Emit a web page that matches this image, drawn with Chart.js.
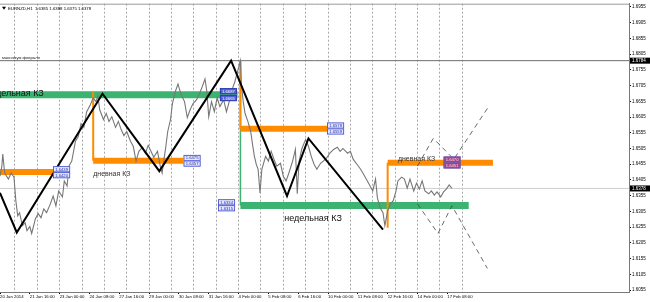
<!DOCTYPE html>
<html><head><meta charset="utf-8">
<script src="https://cdn.jsdelivr.net/npm/chart.js@4.4.1/dist/chart.umd.min.js"></script>
<style>html,body{margin:0;padding:0;background:#fff;overflow:hidden}#wrap{width:650px;height:302px;position:relative}</style>
</head><body><div id="wrap"><canvas id="c" width="650" height="302"></canvas></div>
<script>
// ---- data (x = H1 bar index, y = EURNZD price) ----
const xTickBars = [0,32,64,96,128,160,192,224,256,288,320,352,384,416,448,480];
const xTickLabels = ["20 Jan 2014","21 Jan 16:00","23 Jan 00:00","24 Jan 08:00","27 Jan 16:00","29 Jan 00:00","30 Jan 08:00","31 Jan 16:00","4 Feb 00:00","5 Feb 08:00","6 Feb 16:00","10 Feb 00:00","11 Feb 08:00","12 Feb 16:00","14 Feb 00:00","17 Feb 08:00"];
const dayGridBars = [16,40,64,88,112,136,160,184,208,232,256,280,304,328,352,376,400,424,448,472,496];
const yTickValues = [1.6055,1.6105,1.6155,1.6205,1.6255,1.6305,1.6355,1.6405,1.6455,1.6505,1.6555,1.6605,1.6655,1.6705,1.6755,1.6805,1.6855,1.6905,1.6955];

const priceBars = [0,2,3,5,9,12,15,17,19,21,
24,27,29,32,34,38,41,44,47,50,
54,57,60,63,67,69,72,74,77,81,
84,87,90,93,97,100,103,105,107,111,
114,117,120,124,127,130,133,136,140,143,
146,149,153,156,159,162,165,169,172,174,
176,178,180,183,185,188,191,194,198,201,
204,207,211,214,217,220,222,224,227,230,
233,236,240,243,246,249,252,256,258,259,
261,263,266,269,271,273,275,277,279,281,
285,288,291,294,297,301,304,307,310,314,
317,319,321,324,328,331,334,337,340,344,
347,351,354,358,362,365,368,373,376,379,
383,387,390,393,396,400,403,405,408,411,
413,416,419,422,425,427,431,434,437,440,
444,447,450,453,456,460,463,466,469,473,
476,479,482,485];
const priceValues = [1.6417,1.6449,1.6487,1.6427,1.6408,1.6427,1.6414,1.6339,1.6291,1.6301,
1.6260,1.6269,1.6244,1.6257,1.6235,1.6282,1.6298,1.6285,1.6313,1.6301,
1.6329,1.6354,1.6323,1.6370,1.6351,1.6402,1.6386,1.6449,1.6465,1.6528,
1.6543,1.6584,1.6572,1.6622,1.6644,1.6666,1.6654,1.6672,1.6628,1.6597,
1.6616,1.6591,1.6606,1.6572,1.6591,1.6565,1.6546,1.6559,1.6528,1.6512,
1.6465,1.6496,1.6509,1.6490,1.6515,1.6496,1.6477,1.6496,1.6449,1.6427,
1.6471,1.6512,1.6559,1.6597,1.6647,1.6685,1.6710,1.6679,1.6654,1.6603,
1.6628,1.6647,1.6660,1.6679,1.6701,1.6726,1.6685,1.6606,1.6654,1.6622,
1.6666,1.6638,1.6660,1.6622,1.6654,1.6691,1.6717,1.6761,1.6784,1.6710,
1.6654,1.6616,1.6591,1.6559,1.6518,1.6480,1.6455,1.6439,1.6364,1.6439,
1.6480,1.6465,1.6496,1.6471,1.6449,1.6458,1.6417,1.6402,1.6427,1.6465,
1.6502,1.6361,1.6465,1.6505,1.6534,1.6512,1.6480,1.6455,1.6439,1.6458,
1.6465,1.6477,1.6490,1.6502,1.6509,1.6496,1.6505,1.6490,1.6496,1.6471,
1.6455,1.6439,1.6424,1.6408,1.6392,1.6370,1.6408,1.6348,1.6316,1.6301,
1.6260,1.6307,1.6329,1.6339,1.6370,1.6402,1.6414,1.6408,1.6379,1.6408,
1.6370,1.6395,1.6376,1.6402,1.6370,1.6361,1.6370,1.6357,1.6367,1.6351,
1.6367,1.6376,1.6389,1.6378];

const zigzagBars = [0,18,110,171,248,308,331,411];
const zigzagValues = [1.6364,1.6238,1.6679,1.6433,1.6784,1.6354,1.6537,1.6247];
const projUpBars = [448,465,487,525];
const projUpValues = [1.6449,1.6537,1.6471,1.6641];
const projDownBars = [448,470,485,523];
const projDownValues = [1.6329,1.6235,1.6323,1.6124];

// zones: [startBar, endBar] and level
const weeklyZoneBars = [[0,255],[258,503]];
const weeklyZoneLevels = [1.6676,1.6324];
const dailyZoneBars = [[0,59],[100,197],[258,351],[416,529]];
const dailyZoneLevels = [1.6430,1.6466,1.6568,1.6460];
const dailyZoneOrigins = [null,1.6685,1.6784,1.6253];
const weeklyBreakBar = 258, weeklyBreakFrom = 1.6784;
const zoneLabelBars = [57,197,236,234,351,476];
const zoneLabelUpper = [1.6439,1.6475,1.6687,1.6334,1.6578,1.6470];
const zoneLabelLower = [1.6420,1.6457,1.6665,1.6315,1.6559,1.6451];
const febHigh = 1.6784;
const lastPrice = 1.6378;
const xMin = 0, xMax = 675;

// ---- build datasets ----
const pts = (bs, vs) => bs.map((b,i)=>({x:b,y:vs[i]}));
const datasets = [];
const GREEN = '#3cb371', ORANGE = '#ff8c00';
datasets.push({data:[{x:xMin,y:febHigh},{x:xMax,y:febHigh}], borderColor:'#6e6e6e', borderWidth:1, order:9});
datasets.push({data:[{x:xMin,y:lastPrice},{x:xMax,y:lastPrice}], borderColor:'#cfcfcf', borderWidth:1, order:9});
weeklyZoneBars.forEach((r,i)=>datasets.push({data:[{x:r[0],y:weeklyZoneLevels[i]},{x:r[1],y:weeklyZoneLevels[i]}], borderColor:GREEN, borderWidth:7, borderCapStyle:'butt', order:6}));
datasets.push({data:[{x:weeklyBreakBar,y:weeklyBreakFrom},{x:weeklyBreakBar,y:weeklyZoneLevels[1]}], borderColor:GREEN, borderWidth:1.5, order:6});
dailyZoneBars.forEach((r,i)=>{
  datasets.push({data:[{x:r[0],y:dailyZoneLevels[i]},{x:r[1],y:dailyZoneLevels[i]}], borderColor:ORANGE, borderWidth:6, borderCapStyle:'butt', order:5});
  if (dailyZoneOrigins[i]!==null) datasets.push({data:[{x:r[0],y:dailyZoneOrigins[i]},{x:r[0],y:dailyZoneLevels[i]}], borderColor:ORANGE, borderWidth:2, order:5});
});
datasets.push({data:pts(priceBars,priceValues), borderColor:'#777777', borderWidth:1.1, order:3});
datasets.push({data:pts(zigzagBars,zigzagValues), borderColor:'#000', borderWidth:2, order:2});
datasets.push({data:pts(projUpBars,projUpValues), borderColor:'#444', borderWidth:0.8, borderDash:[5,4], order:1});
datasets.push({data:pts(projDownBars,projDownValues), borderColor:'#444', borderWidth:0.8, borderDash:[5,4], order:1});
datasets.forEach(d=>{d.pointRadius=0; d.tension=0; d.fill=false;});

const FONT = '"Liberation Sans", Arial, sans-serif';
const overlay = {
  id:'overlay',
  afterDatasetsDraw(chart){
    const {ctx, scales:{x,y}, chartArea:ca} = chart;
    ctx.save();
    ctx.beginPath(); ctx.rect(ca.left, ca.top, ca.right-ca.left, ca.bottom-ca.top); ctx.clip();
    const styles = [
      ['#e4e6ff','#3b46c8','#2530a8'],['#e4e6ff','#3b46c8','#2530a8'],
      ['#4e60d4','#2a36a8','#ffffff'],['#e4e6ff','#3b46c8','#2530a8'],
      ['#e4e6ff','#3b46c8','#2530a8'],['#a8427c','#5a5ad0','#f4dcf0']];
    zoneLabelBars.forEach((b,i)=>{
      const left = x.getPixelForValue(b);
      [zoneLabelUpper[i], zoneLabelLower[i]].forEach(v=>{
        const cy = y.getPixelForValue(v), w=17, h=6;
        const s = styles[i];
        ctx.fillStyle=s[0]; ctx.fillRect(left, cy-h/2, w, h);
        ctx.strokeStyle=s[1]; ctx.lineWidth=0.8; ctx.strokeRect(left+0.4, cy-h/2+0.4, w-0.8, h-0.8);
        ctx.fillStyle=s[2]; ctx.font='4.2px '+FONT; ctx.textAlign='center'; ctx.textBaseline='middle';
        ctx.fillText(v.toFixed(4), left+w/2, cy+0.3);
      });
    });
    ctx.fillStyle='#111'; ctx.textBaseline='alphabetic';
    ctx.font='9px '+FONT; ctx.textAlign='right';
    ctx.fillText('недельная КЗ', x.getPixelForValue(47), y.getPixelForValue(1.6676)+1);
    ctx.textAlign='left';
    ctx.fillText('недельная КЗ', x.getPixelForValue(305), y.getPixelForValue(1.6324)+16);
    ctx.font='7px '+FONT; ctx.fillStyle='#333';
    ctx.fillText('дневная КЗ', x.getPixelForValue(100), y.getPixelForValue(1.6466)+15);
    ctx.fillText('дневная КЗ', x.getPixelForValue(427), y.getPixelForValue(1.6460)-2);
    ctx.font='4.2px '+FONT; ctx.fillStyle='#222';
    ctx.fillText('максимум февраля', ca.left+2, y.getPixelForValue(febHigh)-1.5);
    ctx.font='4.3px '+FONT; ctx.fillStyle='#000';
    ctx.fillText('EURNZD,H1  1.6385 1.6388 1.6375 1.6378', ca.left+8, ca.top+6);
    ctx.beginPath(); ctx.moveTo(ca.left+2,ca.top+3); ctx.lineTo(ca.left+6,ca.top+3); ctx.lineTo(ca.left+4,ca.top+6); ctx.closePath(); ctx.fill();
    ctx.restore();
  },
  afterDraw(chart){
    const {ctx, scales:{y}, chartArea:ca} = chart;
    ctx.save();
    ctx.strokeStyle='#9a9a9a'; ctx.lineWidth=1;
    ctx.beginPath(); ctx.moveTo(0,ca.top+0.5); ctx.lineTo(ca.right,ca.top+0.5); ctx.stroke();
    [febHigh,lastPrice].forEach(v=>{
      const cy=y.getPixelForValue(v);
      ctx.fillStyle='#000'; ctx.fillRect(ca.right+1, cy-3, 20, 6);
      ctx.fillStyle='#fff'; ctx.font='4.5px '+FONT; ctx.textAlign='left'; ctx.textBaseline='middle';
      ctx.fillText(v.toFixed(4), ca.right+3, cy+0.3);
    });
    ctx.restore();
  }
};

new Chart(document.getElementById('c'), {
  type:'line',
  data:{datasets},
  plugins:[overlay],
  options:{
    responsive:false, animation:false, devicePixelRatio:1,
    layout:{padding:0},
    plugins:{legend:{display:false}, tooltip:{enabled:false}},
    scales:{
      x:{type:'linear', position:'bottom', min:xMin, max:xMax,
        afterBuildTicks:s=>{s.ticks=xTickBars.map(v=>({value:v}));},
        ticks:{autoSkip:false, maxRotation:0, minRotation:0, align:'start', padding:0, color:'#000',
          font:{size:4.3, family:FONT}, callback:(v)=>xTickLabels[xTickBars.indexOf(v)]},
        grid:{drawOnChartArea:false, drawTicks:true, tickLength:2, tickColor:'#000'},
        border:{color:'#7a7a7a'},
        afterFit:s=>{s.height=10;}},
      xd:{type:'linear', position:'bottom', min:xMin, max:xMax,
        afterBuildTicks:s=>{s.ticks=dayGridBars.map(v=>({value:v}));},
        ticks:{display:false},
        grid:{drawOnChartArea:true, drawTicks:false, color:'#a8a8a8', lineWidth:1},
        border:{display:false, dash:[2,2]},
        afterFit:s=>{s.height=0;}},
      y:{type:'linear', position:'right', min:1.6049, max:1.6965,
        afterBuildTicks:s=>{s.ticks=yTickValues.map(v=>({value:v}));},
        ticks:{padding:1, color:'#000', font:{size:4.5, family:FONT}, callback:v=>v.toFixed(4)},
        grid:{drawOnChartArea:false, tickLength:2, tickColor:'#000'},
        border:{color:'#7a7a7a'},
        afterFit:s=>{s.width=21;}}
    }
  }
});
</script>
</body></html>
